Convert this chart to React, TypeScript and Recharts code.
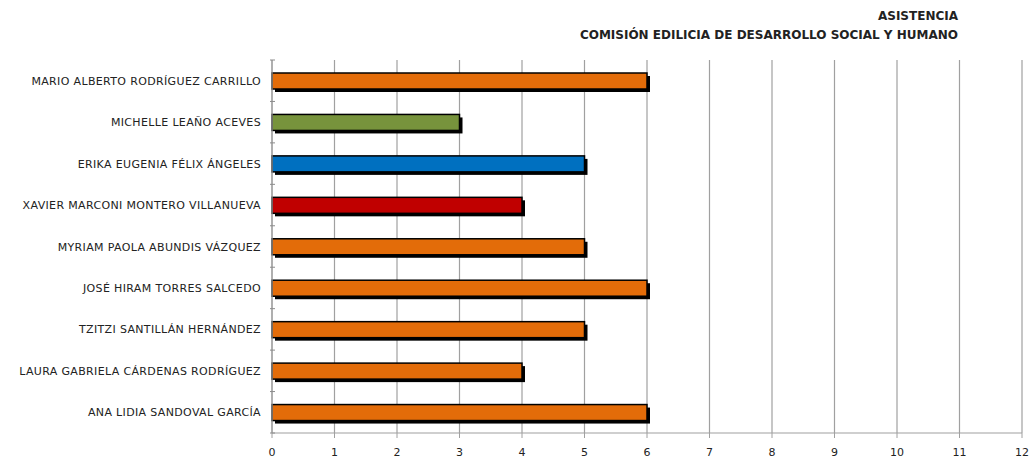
import React from 'react';
import { BarChart, Bar, XAxis, YAxis, CartesianGrid, Cell } from 'recharts';

const names = [
  'MARIO ALBERTO RODRÍGUEZ CARRILLO',
  'MICHELLE LEAÑO ACEVES',
  'ERIKA EUGENIA FÉLIX ÁNGELES',
  'XAVIER MARCONI MONTERO VILLANUEVA',
  'MYRIAM PAOLA ABUNDIS VÁZQUEZ',
  'JOSÉ HIRAM TORRES SALCEDO',
  'TZITZI SANTILLÁN HERNÁNDEZ',
  'LAURA GABRIELA CÁRDENAS RODRÍGUEZ',
  'ANA LIDIA SANDOVAL GARCÍA',
];
const asistencias = [6, 3, 5, 4, 5, 6, 5, 4, 6];
const barColors = ['#E36C09', '#77933C', '#0070C0', '#C00000', '#E36C09', '#E36C09', '#E36C09', '#E36C09', '#E36C09'];
const xTicks = [0, 1, 2, 3, 4, 5, 6, 7, 8, 9, 10, 11, 12];

const data = names.map((n, i) => ({ name: n, value: asistencias[i], color: barColors[i] }));

const FONT = '"DejaVu Sans", sans-serif';
const PLOT_TOP = 60;
const PLOT_BOTTOM = 433;

// bar with black outline and a drop shadow offset to the lower right
const ShadowBar = (props: any) => {
  const { x, y, width, height, fill } = props;
  if (!width) return null;
  return (
    <g>
      <rect x={x + 3} y={y + 3} width={width} height={height} fill="#000" />
      <rect x={x} y={y} width={width} height={height} fill={fill} stroke="#000" strokeWidth={1.5} />
    </g>
  );
};

// category tick: label plus small tick marks at band edges
const NameTick = (props: any) => {
  const { x, y, payload, index } = props;
  const band = (PLOT_BOTTOM - PLOT_TOP) / names.length;
  return (
    <g>
      <line x1={x + 6} x2={x + 11} y1={y - band / 2} y2={y - band / 2} stroke="#8c8c8c" />
      {index === names.length - 1 && (
        <line x1={x + 6} x2={x + 11} y1={y + band / 2} y2={y + band / 2} stroke="#8c8c8c" />
      )}
      <text x={x - 3} y={y} dy={4} textAnchor="end" fontSize={11} letterSpacing={0.35} fill="#222" fontFamily={FONT}>
        {payload.value}
      </text>
    </g>
  );
};

export default function App() {
  return (
    <div style={{ position: 'absolute', left: 0, top: 0, width: 1029, height: 461, background: '#fff' }}>
      <div style={{ position: 'absolute', right: 71, top: 7, textAlign: 'right', fontFamily: FONT, fontWeight: 'bold', fontSize: 12, lineHeight: '19px', color: '#222', letterSpacing: 0 }}>
        <div>ASISTENCIA</div>
        <div>COMISIÓN EDILICIA DE DESARROLLO SOCIAL Y HUMANO</div>
      </div>
      <BarChart
        width={1029}
        height={461}
        data={data}
        layout="vertical"
        margin={{ top: PLOT_TOP, right: 7, left: 0, bottom: 461 - PLOT_BOTTOM - 28 }}
      >
        <CartesianGrid horizontal={false} stroke="#a0a0a0" strokeWidth={1.2} />
        <XAxis
          type="number"
          domain={[0, 12]}
          ticks={xTicks}
          interval={0}
          axisLine={{ stroke: '#a0a0a0', strokeWidth: 1.2 }}
          tickLine={{ stroke: '#a0a0a0' }}
          tickSize={5}
          tickMargin={10}
          height={28}
          tick={{ fontSize: 11, fill: '#222', fontFamily: FONT }}
        />
        <YAxis
          type="category"
          dataKey="name"
          width={272}
          axisLine={{ stroke: '#a0a0a0', strokeWidth: 1.2 }}
          tickLine={false}
          tick={<NameTick />}
          interval={0}
        />
        <Bar dataKey="value" barSize={16} shape={<ShadowBar />} isAnimationActive={false}>
          {data.map((d, i) => (
            <Cell key={i} fill={d.color} />
          ))}
        </Bar>
      </BarChart>
    </div>
  );
}
